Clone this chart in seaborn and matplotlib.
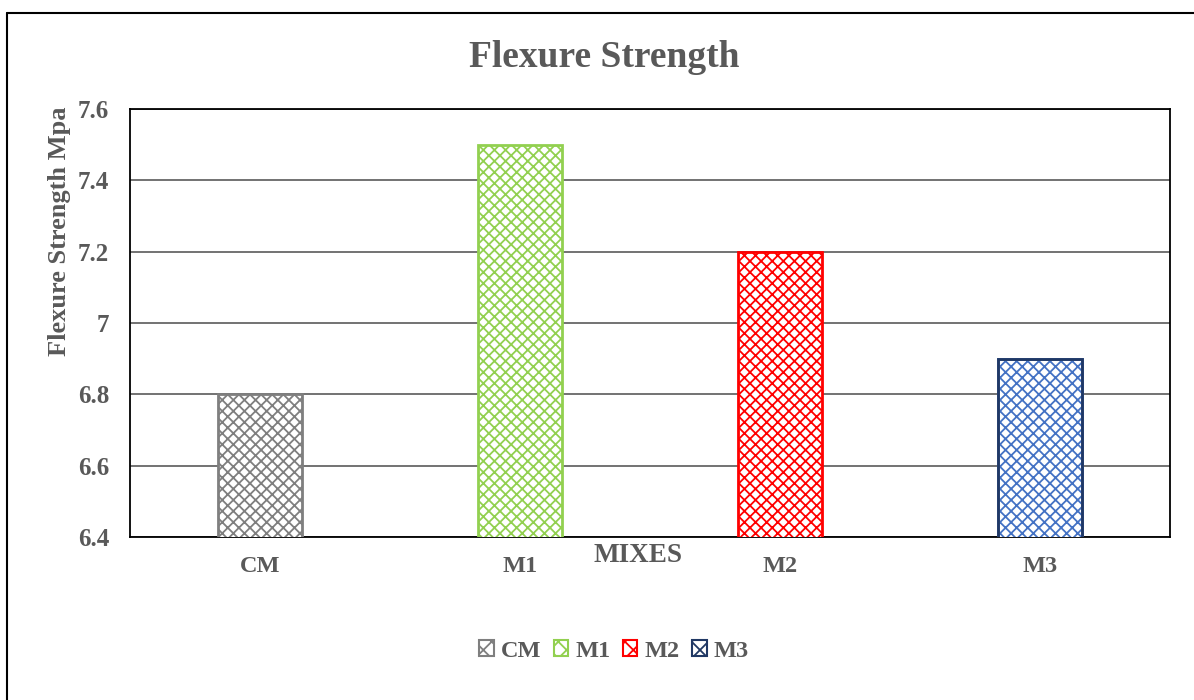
import matplotlib
matplotlib.use("Agg")
import matplotlib.pyplot as plt
import seaborn as sns
import pandas as pd
from matplotlib.patches import Patch, Rectangle
from matplotlib.lines import Line2D

# Data
mixes = ["CM", "M1", "M2", "M3"]
strength = [6.8, 7.5, 7.2, 6.9]
y_ticks = [6.4, 6.6, 6.8, 7.0, 7.2, 7.4, 7.6]
y_tick_labels = ["6.4", "6.6", "6.8", "7", "7.2", "7.4", "7.6"]

hatch_colors = ["#7f7f7f", "#92d050", "#ff0000", "#4472c4"]
edge_colors = ["#7f7f7f", "#92d050", "#ff0000", "#203864"]
text_gray = "#595959"

sns.set_theme(style="white")
plt.rcParams["font.family"] = ["Liberation Serif", "DejaVu Serif"]
plt.rcParams["font.weight"] = "bold"
plt.rcParams["hatch.linewidth"] = 1.3

df = pd.DataFrame({"Mix": mixes, "Strength": strength})

fig = plt.figure(figsize=(11.94, 7.0), dpi=100)
ax = fig.add_axes([130 / 1194, 1 - 537 / 700, 1040 / 1194, 428 / 700])

sns.barplot(data=df, x="Mix", y="Strength", hue="Mix", order=mixes,
            hue_order=mixes, palette=["white"] * 4, width=0.32,
            legend=False, ax=ax, zorder=3)

for patch, hc, ec in zip(ax.patches, hatch_colors, edge_colors):
    patch.set_facecolor("white")
    patch.set_edgecolor(hc)
    patch.set_hatch("xxx")
    patch.set_linewidth(2)
    if ec != hc:
        ax.add_patch(Rectangle(patch.get_xy(), patch.get_width(),
                               patch.get_height(), fill=False,
                               edgecolor=ec, linewidth=2, zorder=4))

ax.set_ylim(6.4, 7.6)
ax.set_yticks(y_ticks)
ax.set_yticklabels(y_tick_labels)
ax.yaxis.grid(True, color="#5a5a5a", linewidth=1.2, zorder=0)
ax.set_axisbelow(True)
for s in ax.spines.values():
    s.set_visible(True)
    s.set_color("black")
    s.set_linewidth(1.3)

ax.tick_params(axis="x", length=0, labelsize=17.5, labelcolor=text_gray, pad=14)
ax.tick_params(axis="y", length=0, labelsize=18, labelcolor=text_gray, pad=15)
for lbl in ax.get_xticklabels() + ax.get_yticklabels():
    lbl.set_fontweight("bold")

ax.set_xlabel("")
ax.set_ylabel("Flexure Strength Mpa", fontsize=19, fontweight="bold",
              color=text_gray)
ax.yaxis.set_label_coords(-0.057, 0.715)

fig.text(638 / 1194, 1 - 555 / 700, "MIXES", ha="center", va="center",
         fontsize=19.5, fontweight="bold", color=text_gray)
fig.text(604 / 1194, 1 - 67 / 700, "Flexure Strength", ha="center",
         va="baseline", fontsize=27, fontweight="bold", color=text_gray)

handles = [Patch(facecolor="white", edgecolor=ec if i == 3 else hc,
                 hatch="xx", linewidth=1.5)
           for i, (hc, ec) in enumerate(zip(hatch_colors, edge_colors))]
leg = fig.legend(handles, mixes, loc="center", ncol=4,
                 bbox_to_anchor=(614 / 1194, 1 - 651 / 700), frameon=False,
                 handlelength=0.6, handleheight=0.6, handletextpad=0.3,
                 columnspacing=0.5, prop={"size": 17.5, "weight": "bold"})
for t in leg.get_texts():
    t.set_color(text_gray)

# Outer frame around the chart area
fig.add_artist(Line2D([7 / 1194, 7 / 1194], [0, 1 - 13 / 700],
                      transform=fig.transFigure, color="black", linewidth=1.5))
fig.add_artist(Line2D([7 / 1194, 1], [1 - 13 / 700, 1 - 13 / 700],
                      transform=fig.transFigure, color="black", linewidth=1.5))

fig.savefig("out.png", dpi=100)
